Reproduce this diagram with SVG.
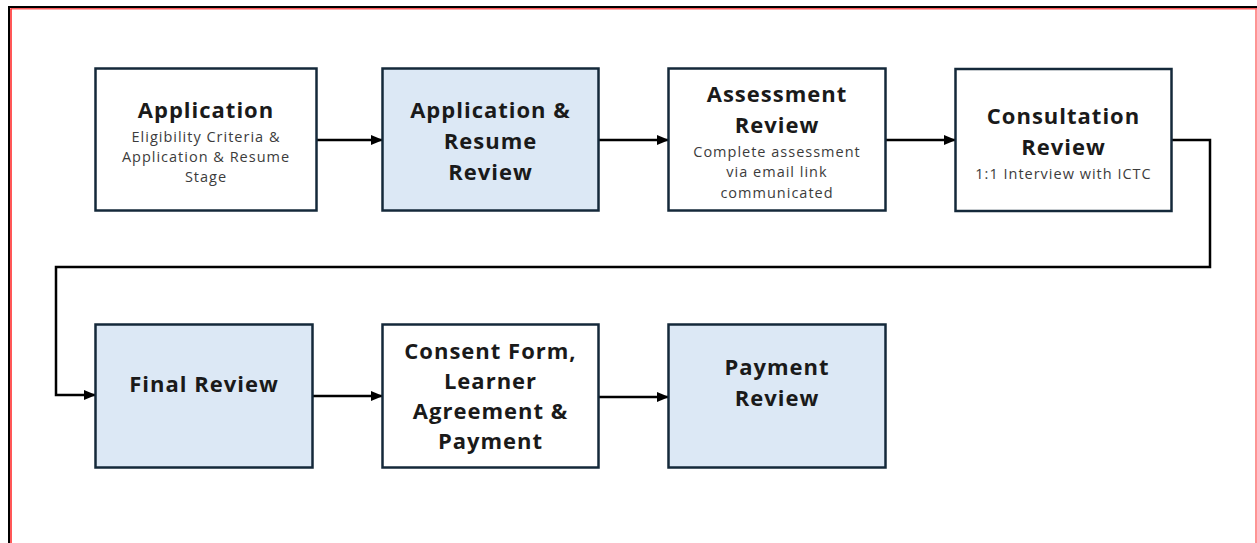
<svg xmlns="http://www.w3.org/2000/svg" width="1257" height="543" viewBox="0 0 1257 543">
<defs>
<marker id="arr" markerWidth="12" markerHeight="10" refX="11" refY="5" orient="auto" markerUnits="userSpaceOnUse">
<path d="M0,0 L12,5 L0,10 Z" fill="#000"/>
</marker>
<style>
.box{stroke:#14293a;stroke-width:2.5}
.w{fill:#ffffff}
.b{fill:#dce8f5}
.t{font-family:"Open Sans","Liberation Sans",sans-serif;font-weight:700;font-size:22px;fill:#1a1a1a;text-anchor:middle;letter-spacing:1px}
.s{font-family:"Open Sans","Liberation Sans",sans-serif;font-size:14.5px;fill:#3c3c3c;text-anchor:middle;letter-spacing:1px}
.c{fill:none;stroke:#000;stroke-width:2.5}
</style>
</defs>
<rect x="0" y="0" width="1257" height="543" fill="#ffffff"/>
<g id="frame">
<line x1="8" y1="7" x2="1257" y2="7" stroke="#000" stroke-width="2"/>
<line x1="9" y1="6" x2="9" y2="543" stroke="#000" stroke-width="2"/>
<line x1="10.5" y1="8.8" x2="1257" y2="8.8" stroke="#ff5a5a" stroke-width="1.5"/>
<line x1="11" y1="8.8" x2="11" y2="543" stroke="#ff2020" stroke-width="1.5"/>
<line x1="1256" y1="8.8" x2="1256" y2="543" stroke="#ff7070" stroke-width="1.5"/>
</g>
<g id="connectors">
<line class="c" x1="317" y1="140" x2="382" y2="140" marker-end="url(#arr)"/>
<line class="c" x1="599" y1="140" x2="668" y2="140" marker-end="url(#arr)"/>
<line class="c" x1="886" y1="140" x2="955" y2="140" marker-end="url(#arr)"/>
<polyline class="c" points="1172,140 1210,140 1210,267 56,267 56,395 95,395" marker-end="url(#arr)"/>
<line class="c" x1="313" y1="396" x2="382" y2="396" marker-end="url(#arr)"/>
<line class="c" x1="599" y1="397" x2="668" y2="397" marker-end="url(#arr)"/>
</g>
<g id="application">
<rect class="box w" x="95.5" y="68.5" width="221" height="142"/>
<text class="t" x="206" y="118">Application</text>
<text class="s" x="206" y="142">Eligibility Criteria &amp;</text>
<text class="s" x="206" y="162">Application &amp; Resume</text>
<text class="s" x="206" y="182">Stage</text>
</g>
<g id="app-resume-review">
<rect class="box b" x="382.5" y="68.5" width="216" height="142"/>
<text class="t" x="490.5" y="118">Application &amp;</text>
<text class="t" x="490.5" y="149">Resume</text>
<text class="t" x="490.5" y="180">Review</text>
</g>
<g id="assessment-review">
<rect class="box w" x="668.5" y="68.5" width="217" height="142"/>
<text class="t" x="777" y="102">Assessment</text>
<text class="t" x="777" y="133">Review</text>
<text class="s" x="777" y="157">Complete assessment</text>
<text class="s" x="777" y="177">via email link</text>
<text class="s" x="777" y="198">communicated</text>
</g>
<g id="consultation-review">
<rect class="box w" x="955.5" y="69" width="216" height="142"/>
<text class="t" x="1063.5" y="124">Consultation</text>
<text class="t" x="1063.5" y="155">Review</text>
<text class="s" x="1063.5" y="179">1:1 Interview with ICTC</text>
</g>
<g id="final-review">
<rect class="box b" x="95.5" y="324.5" width="217" height="143"/>
<text class="t" x="204" y="392">Final Review</text>
</g>
<g id="consent-form">
<rect class="box w" x="382.5" y="324.5" width="216" height="143"/>
<text class="t" x="490.5" y="359">Consent Form,</text>
<text class="t" x="490.5" y="389">Learner</text>
<text class="t" x="490.5" y="419">Agreement &amp;</text>
<text class="t" x="490.5" y="449">Payment</text>
</g>
<g id="payment-review">
<rect class="box b" x="668.5" y="324.5" width="217" height="143"/>
<text class="t" x="777" y="375">Payment</text>
<text class="t" x="777" y="406">Review</text>
</g>
</svg>
